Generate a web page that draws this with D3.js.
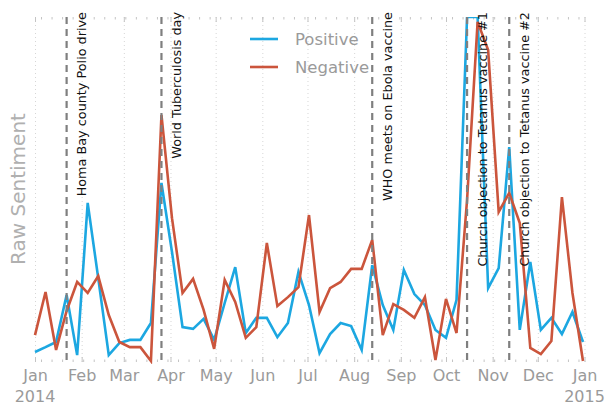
<!DOCTYPE html>
<html>
<head>
<meta charset="utf-8">
<script src="https://cdn.jsdelivr.net/npm/d3@7/dist/d3.min.js"></script>
<style>
html,body{margin:0;padding:0;background:#fff;}
svg{display:block;font-family:"DejaVu Sans",sans-serif;}
</style>
</head>
<body>
<svg id="chart" width="606" height="404"></svg>
<script>
// ---- data ----
const startDate = "2014-01-01";
const positive = [2.9,4.3,5.8,19.4,2.0,46.1,24.3,2.0,5.5,6.4,6.4,11.3,51.9,31.9,10.1,9.6,12.5,6.4,17.1,27.5,8.4,12.8,12.8,7.2,11.3,26.1,16.5,2.6,8.1,11.3,10.4,3.5,28.1,16.5,9.3,26.7,19.7,16.5,9.3,7.0,18.0,100,100,21.4,27.2,62.3,9.3,29.0,9.3,12.8,8.1,14.5,5.8];
const negative = [7.8,20.3,3.5,14.8,23.2,20.0,24.9,13.6,5.8,4.3,4.3,0.3,71.6,41.7,20.0,24.1,15.1,3.8,23.8,17.4,7.0,10.1,34.5,16.2,18.8,21.7,42.6,14.5,21.4,23.2,27.0,27.0,35.4,7.8,16.8,15.1,12.8,18.8,0.6,18.3,8.4,47.0,98.6,90.4,43.5,49.0,40.3,4.1,2.3,6.1,47.8,20.0,0.3];
const seriesNames = ["Positive","Negative"];
const eventDates = ["2014-01-22","2014-03-26","2014-08-13","2014-10-15","2014-11-12"];
const eventLabels = ["Homa Bay county Polio drive","World Tuberculosis day","WHO meets on Ebola vaccine","Church objection to Tetanus vaccine #1","Church objection to Tetanus vaccine #2"];
const monthLabels = ["Jan","Feb","Mar","Apr","May","Jun","Jul","Aug","Sep","Oct","Nov","Dec","Jan"];
const yearLabels = [{date:"2014-01-01",label:"2014"},{date:"2015-01-01",label:"2015"}];
const yLabel = "Raw Sentiment";

// ---- layout ----
const svg = d3.select("#chart");
const L = 35, R = 584.5, T = 17, B = 362;
const parse = d3.utcParse("%Y-%m-%d");
const t0 = parse(startDate);
const dates = positive.map((_, i) => d3.utcDay.offset(t0, i * 7));
const x = d3.scaleUtc().domain([parse("2014-01-01"), parse("2015-01-01")]).range([L, R]);
const y = d3.scaleLinear().domain([0, 100]).range([B, T]);
const colors = ["#1ca7e1", "#cb553c"];
const months = d3.utcMonth.range(parse("2014-01-01"), parse("2015-01-02"));

svg.append("defs").append("clipPath").attr("id","clip")
  .append("rect").attr("x", L - 2).attr("y", T).attr("width", R - L + 4).attr("height", B - T + 2);

// vertical dotted grid
const grid = svg.append("g").attr("transform", `translate(0,${B})`)
  .call(d3.axisBottom(x).tickValues(months).tickSize(-(B - T)).tickFormat(""));
grid.select(".domain").remove();
grid.selectAll("line").attr("stroke", "#d6d6d6").attr("stroke-width", 1).attr("stroke-dasharray", "1,3");

// tick marks top and bottom
const weeks = d3.utcWeek.range(parse("2014-01-01"), parse("2015-01-01"));
function ticks(g, vals, len, top) {
  const ax = top ? d3.axisTop(x) : d3.axisBottom(x);
  g.call(ax.tickValues(vals).tickSize(-len).tickFormat(""));
  g.select(".domain").remove();
  g.selectAll("line").attr("stroke", "#c4c4c4").attr("stroke-width", 1);
}
svg.append("g").attr("transform", `translate(0,${B})`).call(g => ticks(g, weeks, 2.5, false));
svg.append("g").attr("transform", `translate(0,${B})`).call(g => ticks(g, months, 5, false));
svg.append("g").attr("transform", `translate(0,${T})`).call(g => ticks(g, weeks, 2.5, true));
svg.append("g").attr("transform", `translate(0,${T})`).call(g => ticks(g, months, 5, true));

// x tick labels
const xa = svg.append("g").attr("transform", `translate(0,${B})`)
  .call(d3.axisBottom(x).tickValues(months).tickSize(0).tickPadding(8)
    .tickFormat((d, i) => monthLabels[i]));
xa.select(".domain").remove();
xa.selectAll("text").attr("font-size", 16).attr("fill", "#9a9a9a").attr("font-family", "DejaVu Sans");
svg.append("g").selectAll("text").data(yearLabels).join("text")
  .attr("x", d => x(parse(d.date))).attr("y", 401.5)
  .attr("text-anchor", "middle").attr("font-size", 16).attr("fill", "#9a9a9a")
  .text(d => d.label);

// y label
svg.append("text").attr("transform", "translate(25,189) rotate(-90)")
  .attr("text-anchor", "middle").attr("font-size", 20).attr("fill", "#b0b0b0").text(yLabel);

// lines
const plot = svg.append("g").attr("clip-path", "url(#clip)");
const line = d3.line().x((d, i) => x(dates[i])).y(d => y(d));
[positive, negative].forEach((s, k) => {
  plot.append("path").datum(s).attr("d", line).attr("fill", "none")
    .attr("stroke", colors[k]).attr("stroke-width", 2.6).attr("stroke-linejoin", "miter");
});

// event lines + labels
eventDates.forEach((ds, i) => {
  const ex = x(parse(ds));
  svg.append("line").attr("x1", ex).attr("x2", ex).attr("y1", T).attr("y2", B)
    .attr("stroke", "#7f7f7f").attr("stroke-width", 2.2).attr("stroke-dasharray", "7,5");
  svg.append("text").attr("transform", `translate(${ex + 19.5},${12}) rotate(-90)`)
    .attr("text-anchor", "end").attr("font-size", 12.8).attr("fill", "#111").text(eventLabels[i]);
});

// legend
const lg = svg.append("g");
seriesNames.forEach((n, k) => {
  const ly = 39 + k * 28;
  lg.append("line").attr("x1", 250).attr("x2", 278).attr("y1", ly).attr("y2", ly)
    .attr("stroke", colors[k]).attr("stroke-width", 2.6);
  lg.append("text").attr("x", 295).attr("y", ly).attr("dy", "0.36em")
    .attr("font-size", 16.5).attr("fill", "#9a9a9a").text(n);
});
</script>
</body>
</html>
